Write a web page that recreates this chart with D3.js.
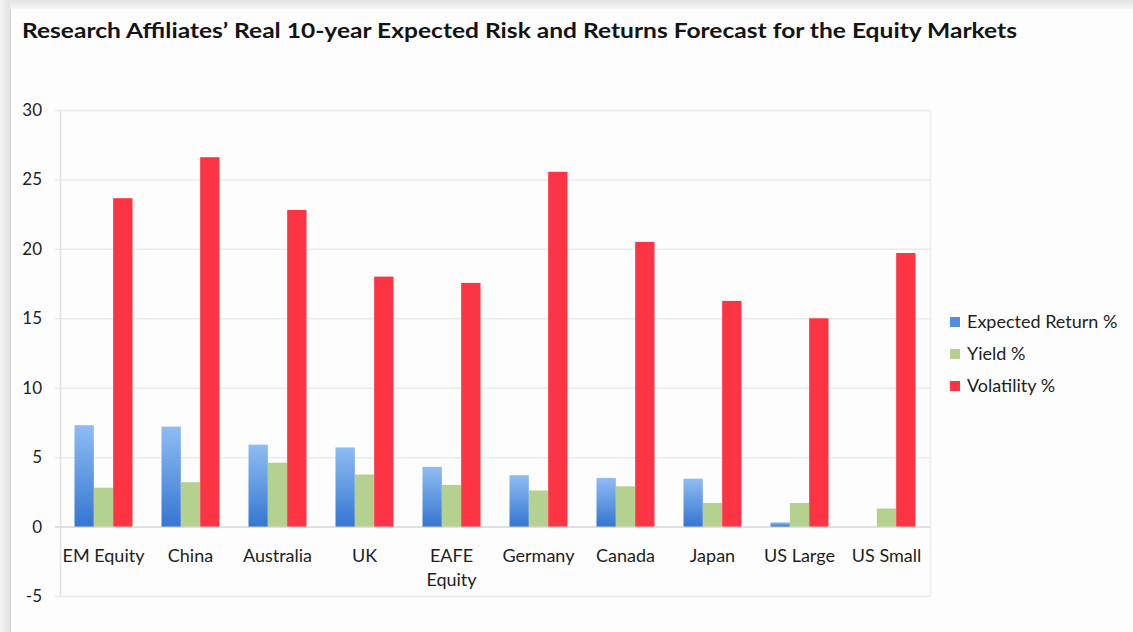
<!DOCTYPE html>
<html>
<head>
<meta charset="utf-8">
<script src="https://cdn.jsdelivr.net/npm/d3@7"></script>
<style>
  html, body { margin: 0; padding: 0; background: #fff; }
  svg { display: block; }
</style>
</head>
<body>
<svg id="chart" width="1133" height="632"></svg>
<script>
// Forecast data: real 10-year expected return, yield and volatility (%)
const categories = ["EM Equity", "China", "Australia", "UK", "EAFE Equity", "Germany", "Canada", "Japan", "US Large", "US Small"];
const seriesNames = ["Expected Return %", "Yield %", "Volatility %"];
const expectedReturn = [7.3, 7.2, 5.9, 5.7, 4.3, 3.7, 3.5, 3.45, 0.3, 0];
const yieldPct = [2.8, 3.2, 4.6, 3.75, 3.0, 2.6, 2.9, 1.7, 1.7, 1.3];
const volatility = [23.65, 26.6, 22.8, 18.0, 17.55, 25.55, 20.5, 16.25, 15.0, 19.7];
const yTicks = [-5, 0, 5, 10, 15, 20, 25, 30];

const svg = d3.select("#chart");
const W = 1133, H = 632;
const font = "Lato, 'Open Sans', sans-serif";
const textColor = "#1e1e1e";

// Page frame: soft grey band on top and left
const defs = svg.append("defs");
const topGrad = defs.append("linearGradient").attr("id", "topBand").attr("x1", 0).attr("y1", 0).attr("x2", 0).attr("y2", 1);
topGrad.append("stop").attr("offset", "0%").attr("stop-color", "#e4e4e4");
topGrad.append("stop").attr("offset", "100%").attr("stop-color", "#f6f6f6");
const leftGrad = defs.append("linearGradient").attr("id", "leftBand").attr("x1", 0).attr("y1", 0).attr("x2", 1).attr("y2", 0);
leftGrad.append("stop").attr("offset", "0%").attr("stop-color", "#f4f4f4");
leftGrad.append("stop").attr("offset", "100%").attr("stop-color", "#e2e2e2");
svg.append("rect").attr("width", W).attr("height", H).attr("fill", "#fdfdfd");
svg.append("rect").attr("x", 0).attr("y", 0).attr("width", W).attr("height", 9).attr("fill", "url(#topBand)");
svg.append("rect").attr("x", 0).attr("y", 0).attr("width", 10).attr("height", H).attr("fill", "url(#leftBand)");
svg.append("line").attr("x1", 10.5).attr("x2", 10.5).attr("y1", 9).attr("y2", H).attr("stroke", "#d0d0d0");

// Bar gradient for the expected-return series
const blueGrad = defs.append("linearGradient").attr("id", "blueGrad").attr("x1", 0).attr("y1", 0).attr("x2", 0).attr("y2", 1);
blueGrad.append("stop").attr("offset", "0%").attr("stop-color", "#8fbdf3");
blueGrad.append("stop").attr("offset", "100%").attr("stop-color", "#3576d2");

const colors = ["url(#blueGrad)", "#b5d190", "#fc3444"];
const legendColors = ["#4f8ee0", "#b5d190", "#fc3444"];

// Title
svg.append("text")
  .attr("x", 22).attr("y", 38)
  .attr("font-family", font).attr("font-weight", 700).attr("font-size", 21)
  .attr("fill", "#141414")
  .attr("textLength", 995).attr("lengthAdjust", "spacingAndGlyphs")
  .text("Research Affiliates\u2019 Real 10-year Expected Risk and Returns Forecast for the Equity Markets");

// Plot area
const plot = { left: 60, right: 930, top: 110, bottom: 596 };
const y = d3.scaleLinear().domain([-5, 30]).range([plot.bottom, plot.top]);
const x0 = d3.scaleBand().domain(categories).range([plot.left, plot.right]).paddingInner(0).paddingOuter(0);
const x1 = d3.scaleBand().domain(seriesNames).range([0, x0.bandwidth()]).paddingInner(0).paddingOuter(0.75);

// Gridlines
svg.append("g")
  .selectAll("line").data(yTicks).join("line")
  .attr("x1", plot.left - 5).attr("x2", plot.right)
  .attr("y1", d => y(d) + 0.5).attr("y2", d => y(d) + 0.5)
  .attr("stroke", d => d === 0 ? "#d6d6d6" : "#ebebeb").attr("stroke-width", 1.5);

// Plot frame (left axis and right edge)
svg.append("line").attr("x1", plot.left + 0.5).attr("x2", plot.left + 0.5)
  .attr("y1", plot.top).attr("y2", plot.bottom + 1).attr("stroke", "#e2e2e2").attr("stroke-width", 1.5);
svg.append("line").attr("x1", plot.right + 0.5).attr("x2", plot.right + 0.5)
  .attr("y1", plot.top).attr("y2", plot.bottom + 1).attr("stroke", "#ededed").attr("stroke-width", 1.5);

// Y axis labels (plain hyphen for negatives)
const yAxis = d3.axisLeft(y).tickValues(yTicks).tickSize(0).tickPadding(18).tickFormat(d => String(d));
const yg = svg.append("g").attr("transform", `translate(${plot.left},0)`).call(yAxis);
yg.select(".domain").remove();
yg.selectAll("text").attr("font-family", font).attr("font-size", 17).attr("fill", textColor);

// Bars
const rows = categories.map((c, i) => ({
  cat: c,
  vals: [expectedReturn[i], yieldPct[i], volatility[i]]
}));
const groups = svg.append("g").selectAll("g").data(rows).join("g")
  .attr("transform", d => `translate(${x0(d.cat)},0)`);
groups.selectAll("rect")
  .data(d => d.vals.map((v, k) => ({ v, k })))
  .join("rect")
  .attr("x", d => x1(seriesNames[d.k]))
  .attr("width", x1.bandwidth())
  .attr("y", d => y(Math.max(0, d.v)))
  .attr("height", d => Math.abs(y(d.v) - y(0)))
  .attr("fill", d => colors[d.k]);

// Category labels
const xl = svg.append("g").selectAll("text").data(categories).join("text")
  .attr("x", d => x0(d) + x0.bandwidth() / 2)
  .attr("y", 562)
  .attr("text-anchor", "middle")
  .attr("font-family", font).attr("font-size", 18).attr("fill", textColor);
xl.each(function (d) {
  const t = d3.select(this);
  const parts = d === "EAFE Equity" ? ["EAFE", "Equity"] : [d];
  parts.forEach((p, i) => t.append("tspan").attr("x", x0(d) + x0.bandwidth() / 2).attr("dy", i === 0 ? 0 : 24).text(p));
});

// Legend
const lg = svg.append("g").attr("transform", "translate(950,322)");
seriesNames.forEach((s, i) => {
  const g = lg.append("g").attr("transform", `translate(0,${i * 32})`);
  g.append("rect").attr("x", 0).attr("y", -5).attr("width", 10).attr("height", 10).attr("fill", legendColors[i]);
  g.append("text").attr("x", 17).attr("y", 6).attr("font-family", font).attr("font-size", 18).attr("fill", textColor).text(s);
});
</script>
</body>
</html>
